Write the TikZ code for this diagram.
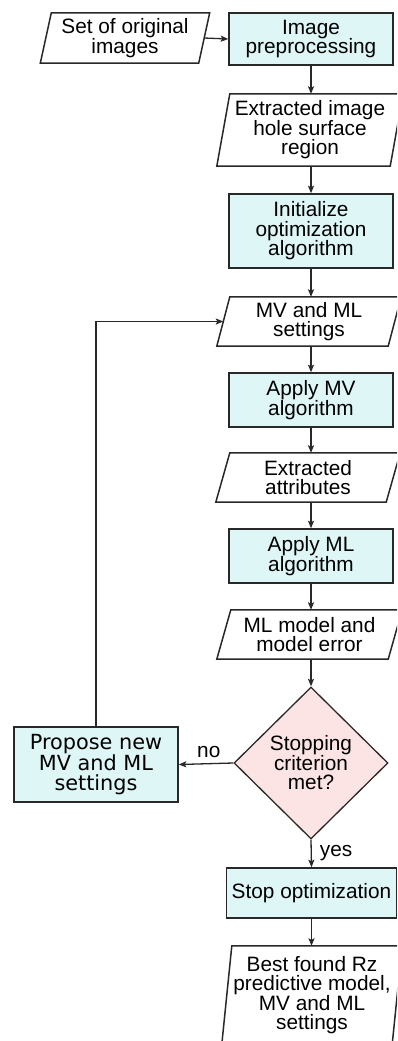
\documentclass[tikz,border=0pt]{standalone}
\usepackage{fontspec}
\setmainfont{Liberation Sans}
\newfontfamily\dejavufam{DejaVu Sans}
\usetikzlibrary{shapes.geometric,arrows.meta,calc}
\definecolor{linec}{RGB}{40,40,40}
\definecolor{cyanf}{RGB}{222,246,246}
\definecolor{pinkf}{RGB}{252,228,228}
\newcommand\mainfs{\fontsize{20.8}{19.5}\selectfont}
\newcommand\propfs{\dejavufam\fontsize{20.8}{19.5}\selectfont}
\begin{document}
\begin{tikzpicture}[x=1pt,y=-1pt,
  proc/.style={rectangle, draw=linec, line width=1.5pt, fill=cyanf, align=center, font=\mainfs, inner sep=0pt},
  para/.style={rectangle, align=center, font=\mainfs, inner sep=0pt},
  paraline/.style={draw=linec, line width=1.5pt, line join=miter},
  decis/.style={diamond, draw=linec, line width=1.3pt, fill=pinkf, align=center, font=\mainfs, inner sep=0pt, aspect=1},
  arr/.style={draw=linec, line width=1.3pt, -{Stealth[length=7.5pt,width=6pt,inset=1.5pt]}},
  lab/.style={font=\mainfs, inner sep=0pt}
]
\useasboundingbox (0,0) rectangle (397,1041);
\clip (0,0) rectangle (397,1041);

% nodes
\node[para, minimum width=169pt, minimum height=50pt] (set) at (125,38) {Set of original\\images};
\node[proc, minimum width=164pt, minimum height=52pt] (prep) at (311,39) {Image\\preprocessing};
\node[para, minimum width=186pt, minimum height=72pt] (ext) at (310,130) {Extracted image\\hole surface\\region};
\node[proc, minimum width=164pt, minimum height=74pt] (init) at (311,231) {Initialize\\optimization\\algorithm};
\node[para, minimum width=184pt, minimum height=49pt] (mvs) at (309,321.5) {MV and ML\\settings};
\node[proc, minimum width=164pt, minimum height=54pt] (amv) at (311,400) {Apply MV\\algorithm};
\node[para, minimum width=184pt, minimum height=49pt] (attr) at (308,477.5) {Extracted\\attributes};
\node[proc, minimum width=164pt, minimum height=54pt] (aml) at (311,556) {Apply ML\\algorithm};
\node[para, minimum width=185pt, minimum height=49pt] (mlm) at (309.5,634.5) {ML model and\\model error};
\node[decis, minimum width=154pt, minimum height=152pt] (crit) at (311,763) {Stopping\\criterion\\met?};
\node[proc, font=\propfs, minimum width=164pt, minimum height=75pt] (prop) at (96,764.5) {Propose new\\MV and ML\\settings};
\node[proc, minimum width=170pt, minimum height=50pt] (stopopt) at (311.5,893) {Stop optimization};
\node[para, minimum width=180pt, minimum height=98pt] (best) at (312,995) {Best found Rz\\predictive model,\\MV and ML\\settings};

% parallelogram outlines
\draw[paraline] ([xshift=11pt]set.north west) -- (set.north east) -- ([xshift=-11pt]set.south east) -- (set.south west) -- cycle;
\draw[paraline] ([xshift=13pt]ext.north west) -- (ext.north east) -- ([xshift=-13pt]ext.south east) -- (ext.south west) -- cycle;
\draw[paraline] ([xshift=13pt]mvs.north west) -- (mvs.north east) -- ([xshift=-13pt]mvs.south east) -- (mvs.south west) -- cycle;
\draw[paraline] ([xshift=14pt]attr.north west) -- (attr.north east) -- ([xshift=-14pt]attr.south east) -- (attr.south west) -- cycle;
\draw[paraline] ([xshift=14pt]mlm.north west) -- (mlm.north east) -- ([xshift=-14pt]mlm.south east) -- (mlm.south west) -- cycle;
\draw[paraline] ([xshift=10pt]best.north west) -- (best.north east) -- ([xshift=-10pt]best.south east) -- (best.south west) -- cycle;

% connection points on slanted edges
\coordinate (setout) at ([xshift=-5.5pt]set.east);
\coordinate (mvsin) at ([xshift=6.5pt]mvs.west);

% connectors
\draw[arr] (setout) -- (prep.west);
\draw[arr] (prep.south) -- (prep.south |- ext.north);
\draw[arr] (ext.south -| init.north) -- (init.north);
\draw[arr] (init.south) -- (init.south |- mvs.north);
\draw[arr] (mvs.south -| amv.north) -- (amv.north);
\draw[arr] (amv.south) -- (amv.south |- attr.north);
\draw[arr] (attr.south -| aml.north) -- (aml.north);
\draw[arr] (aml.south) -- (aml.south |- mlm.north);
\draw[arr] (mlm.south -| crit.north) -- (crit.north);
\draw[arr] (crit.west) -- node[lab, pos=0.45, above, inner sep=5pt] {no} (prop.east);
\draw[arr] (crit.south) -- node[lab, right, inner sep=8pt] {yes} (stopopt.north);
\draw[arr] (stopopt.south) -- (stopopt.south |- best.north);
\draw[arr] (prop.north) |- (mvsin);
\end{tikzpicture}
\end{document}
